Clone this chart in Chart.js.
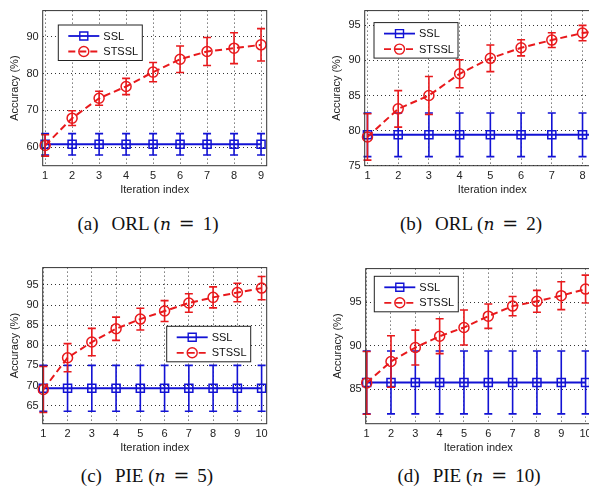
<!DOCTYPE html>
<html>
<head>
<meta charset="utf-8">
<script src="https://cdn.jsdelivr.net/npm/chart.js@4.4.1/dist/chart.umd.min.js"></script>
<style>
  html, body { margin: 0; padding: 0; background: #fff; width: 589px; height: 492px; overflow: hidden; }
  body { position: relative; }
  canvas { position: absolute; }
  .cap { position: absolute; font-family: "Liberation Serif", "DejaVu Serif", serif; font-size: 19px; color: #111; white-space: nowrap; transform: translate(-50%, -50%); }
  .cap .gap { margin-left: 13px; }
  .cap i { font-family: "DejaVu Serif", serif; font-size: 17px; }
  .cap .eq { display: inline-block; margin: 0 8px; font-family: "DejaVu Serif", serif; }
</style>
</head>
<body>
<canvas id="orl1" width="280" height="200" style="left:0px;top:0px"></canvas>
<canvas id="orl2" width="311" height="200" style="left:322px;top:0px"></canvas>
<canvas id="pie5" width="280" height="201" style="left:0px;top:257px"></canvas>
<canvas id="pie10" width="281" height="200" style="left:323px;top:258px"></canvas>

<div class="cap" style="left:148px;top:223px">(a)<span class="gap">ORL (</span><i>n</i><span class="eq">=</span>1)</div>
<div class="cap" style="left:471px;top:223px">(b)<span class="gap">ORL (</span><i>n</i><span class="eq">=</span>2)</div>
<div class="cap" style="left:147px;top:475px">(c)<span class="gap">PIE (</span><i>n</i><span class="eq">=</span>5)</div>
<div class="cap" style="left:469px;top:475px">(d)<span class="gap">PIE (</span><i>n</i><span class="eq">=</span>10)</div>

<script>
// iterations
const iter9 = [1, 2, 3, 4, 5, 6, 7, 8, 9];
const iter10 = [1, 2, 3, 4, 5, 6, 7, 8, 9, 10];

// ORL n=1
const orl1Ssl = [60.8, 60.8, 60.8, 60.8, 60.8, 60.8, 60.8, 60.8, 60.8];
const orl1SslErr = [2.9, 2.9, 2.9, 2.9, 2.9, 2.9, 2.9, 2.9, 2.9];
const orl1Stssl = [60.5, 67.9, 73.3, 76.5, 80.4, 83.9, 86.0, 86.9, 87.8];
const orl1StsslErr = [2.9, 2.0, 1.9, 2.2, 2.6, 3.6, 3.8, 4.2, 4.4];
const orl1YTicks = [60, 70, 80, 90];

// ORL n=2
const orl2Ssl = [79.4, 79.4, 79.4, 79.4, 79.4, 79.4, 79.4, 79.4, 79.4];
const orl2SslErr = [3.1, 3.1, 3.1, 3.1, 3.1, 3.1, 3.1, 3.1, 3.1];
const orl2Stssl = [79.1, 83.1, 85.0, 88.1, 90.3, 91.8, 92.9, 93.9, 94.5];
const orl2StsslErr = [3.3, 2.6, 2.7, 2.0, 1.9, 1.15, 1.05, 1.1, 1.0];
const orl2YTicks = [75, 80, 85, 90, 95];

// PIE n=5
const pie5Ssl = [69.3, 69.3, 69.3, 69.3, 69.3, 69.3, 69.3, 69.3, 69.3, 69.3];
const pie5SslErr = [5.7, 5.7, 5.7, 5.7, 5.7, 5.7, 5.7, 5.7, 5.7, 5.7];
const pie5Stssl = [69.0, 76.9, 80.8, 84.1, 86.5, 88.5, 90.5, 91.9, 93.1, 94.2];
const pie5StsslErr = [5.7, 3.5, 3.4, 2.9, 2.7, 2.6, 2.3, 2.6, 2.3, 2.9];
const pie5YTicks = [65, 70, 75, 80, 85, 90, 95];

// PIE n=10
const pie10Ssl = [85.8, 85.8, 85.8, 85.8, 85.8, 85.8, 85.8, 85.8, 85.8, 85.8];
const pie10SslErr = [3.6, 3.6, 3.6, 3.6, 3.6, 3.6, 3.6, 3.6, 3.6, 3.6];
const pie10Stssl = [85.75, 88.2, 89.8, 91.1, 92.1, 93.4, 94.55, 95.1, 95.75, 96.5];
const pie10StsslErr = [3.6, 2.95, 2.0, 2.0, 2.0, 1.4, 1.1, 1.25, 1.6, 1.6];
const pie10YTicks = [85, 90, 95];

const seriesNames = ['SSL', 'STSSL'];

const BLUE = '#1212d4';
const RED = '#e8191c';
const FONT = { family: '"Liberation Sans", Arial, sans-serif', size: 11 };

const errorBars = {
  id: 'errorBars',
  afterDatasetDraw(chart, args) {
    const ds = chart.data.datasets[args.index];
    if (!ds.errors) return;
    const ctx = chart.ctx;
    const y = chart.scales.y;
    ctx.save();
    ctx.strokeStyle = ds.borderColor;
    ctx.lineWidth = 1.6;
    ctx.setLineDash([]);
    args.meta.data.forEach((pt, i) => {
      const v = ds.data[i].y, e = ds.errors[i];
      const top = y.getPixelForValue(v + e);
      const bot = y.getPixelForValue(v - e);
      ctx.beginPath();
      ctx.moveTo(pt.x, top); ctx.lineTo(pt.x, bot);
      ctx.moveTo(pt.x - 4, top); ctx.lineTo(pt.x + 4, top);
      ctx.moveTo(pt.x - 4, bot); ctx.lineTo(pt.x + 4, bot);
      ctx.stroke();
    });
    ctx.restore();
  }
};

// box round the axes + matlab-like legend
const boxLegend = {
  id: 'boxLegend',
  afterDraw(chart, args, opts) {
    const ctx = chart.ctx;
    const a = chart.chartArea;
    ctx.save();
    ctx.strokeStyle = '#333';
    ctx.lineWidth = 1;
    ctx.setLineDash([]);
    ctx.strokeRect(a.left, a.top, a.right - a.left, a.bottom - a.top);

    const bx = a.left + opts.x, by = a.top + opts.y, bw = 84, bh = 35.5;
    ctx.fillStyle = '#fff';
    ctx.fillRect(bx, by, bw, bh);
    ctx.strokeStyle = '#222';
    ctx.strokeRect(bx, by, bw, bh);
    chart.data.datasets.forEach((ds, i) => {
      const ly = by + 11 + i * 15.5;
      ctx.strokeStyle = ds.borderColor;
      ctx.lineWidth = 1.8;
      ctx.setLineDash(ds.borderDash || []);
      ctx.beginPath();
      ctx.moveTo(bx + 10, ly); ctx.lineTo(bx + 41, ly);
      ctx.stroke();
      ctx.setLineDash([]);
      ctx.lineWidth = 1.4;
      ctx.beginPath();
      if (ds.pointStyle === 'rect') ctx.rect(bx + 25.5 - 4, ly - 4, 8, 8);
      else ctx.arc(bx + 25.5, ly, 5, 0, Math.PI * 2);
      ctx.stroke();
      ctx.fillStyle = '#111';
      ctx.font = '11px ' + FONT.family;
      ctx.textBaseline = 'middle';
      ctx.fillText(ds.label, bx + 45, ly + 0.5);
    });
    ctx.restore();
  }
};

function pts(xs, ys) {
  return xs.map((x, i) => ({ x: x, y: ys[i] }));
}

function makeChart(id, xs, ssl, sslErr, stssl, stsslErr, yTicks, xr, yr, legendPos, padRight) {
  new Chart(document.getElementById(id), {
    type: 'line',
    data: {
      datasets: [
        {
          label: seriesNames[0],
          data: pts(xs, ssl),
          errors: sslErr,
          borderColor: BLUE,
          backgroundColor: 'transparent',
          borderWidth: 2,
          pointStyle: 'rect',
          pointRadius: 5.7,
          pointBorderWidth: 1.5,
          order: 1,
          clip: false
        },
        {
          label: seriesNames[1],
          data: pts(xs, stssl),
          errors: stsslErr,
          borderColor: RED,
          backgroundColor: 'transparent',
          borderWidth: 2,
          borderDash: [7, 4],
          pointStyle: 'circle',
          pointRadius: 5,
          pointBorderWidth: 1.5,
          order: 0,
          clip: false
        }
      ]
    },
    options: {
      responsive: false,
      animation: false,
      layout: { padding: { top: 7.3, right: padRight, left: 0, bottom: 0 } },
      plugins: {
        legend: { display: false },
        tooltip: { enabled: false },
        boxLegend: legendPos
      },
      scales: {
        x: {
          type: 'linear',
          min: xr[0], max: xr[1],
          afterBuildTicks: (ax) => { ax.ticks = xs.map(v => ({ value: v })); },
          afterFit: (ax) => { ax.height = 34.3; },
          ticks: { color: '#222', font: FONT, padding: 4, maxRotation: 0 },
          grid: { color: 'rgba(0,0,0,0.8)', drawTicks: false },
          border: { display: false, dash: [1, 3] },
          title: { display: true, text: 'Iteration index', color: '#222', font: FONT, padding: { top: 0, bottom: 3 } }
        },
        y: {
          min: yr[0], max: yr[1],
          afterBuildTicks: (ax) => { ax.ticks = yTicks.map(v => ({ value: v })); },
          afterFit: (ax) => { ax.width = 42.7; },
          ticks: { color: '#222', font: FONT, padding: 4 },
          grid: { color: 'rgba(0,0,0,0.8)', drawTicks: false },
          border: { display: false, dash: [1, 3] },
          title: { display: true, text: 'Accuracy (%)', color: '#222', font: FONT, padding: { top: 8, bottom: 0 } }
        }
      }
    },
    plugins: [errorBars, boxLegend]
  });
}

makeChart('orl1', iter9, orl1Ssl, orl1SslErr, orl1Stssl, orl1StsslErr, orl1YTicks,
  [0.91, 9.21], [55.0, 97.1], { x: 15.6, y: 14.4 }, 13.3);
makeChart('orl2', iter9, orl2Ssl, orl2SslErr, orl2Stssl, orl2StsslErr, orl2YTicks,
  [0.91, 9.21], [75, 97.1], { x: 9.3, y: 12 }, 13.3);
makeChart('pie5', iter10, pie5Ssl, pie5SslErr, pie5Stssl, pie5StsslErr, pie5YTicks,
  [0.975, 10.21], [60.5, 99.3], { x: 124, y: 58.7 }, 13.3);
makeChart('pie10', iter10, pie10Ssl, pie10SslErr, pie10Stssl, pie10StsslErr, pie10YTicks,
  [0.96, 10.21], [81.07, 98.85], { x: 8.6, y: 7.7 }, 13.3);
</script>
</body>
</html>
